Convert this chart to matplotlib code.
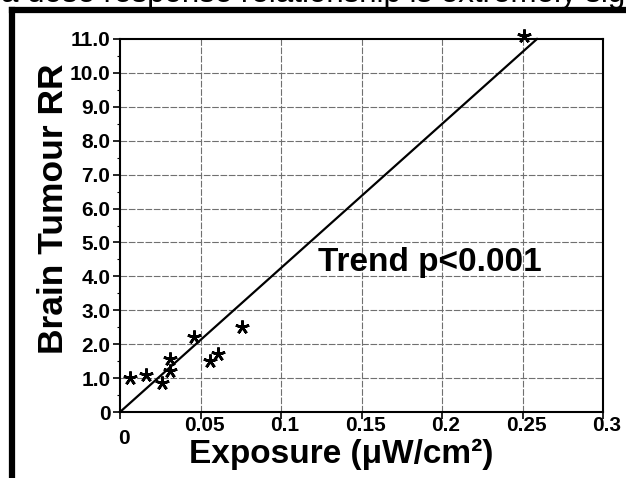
import matplotlib
matplotlib.use('Agg')
import matplotlib.pyplot as plt
import matplotlib.transforms as mtransforms
from matplotlib.lines import Line2D

plt.rcParams['font.family'] = ['Liberation Sans', 'DejaVu Sans']
plt.rcParams['font.weight'] = 'bold'

# data
exposure = [0.006, 0.016, 0.026, 0.031, 0.031, 0.046, 0.056, 0.061, 0.076, 0.251]
brain_rr = [1.0, 1.1, 0.85, 1.55, 1.2, 2.2, 1.5, 1.7, 2.5, 11.1]
trend_x = [0.0, 0.259]
trend_y = [0.0, 11.0]
xticks = [0, 0.05, 0.1, 0.15, 0.2, 0.25, 0.3]
xtick_labels = ['0', '0.05', '0.1', '0.15', '0.2', '0.25', '0.3']
yticks = [0, 1, 2, 3, 4, 5, 6, 7, 8, 9, 10, 11]
ytick_labels = ['0', '1.0', '2.0', '3.0', '4.0', '5.0', '6.0', '7.0', '8.0', '9.0', '10.0', '11.0']

fig = plt.figure(figsize=(6.26, 4.78), dpi=100)
W, H = 626.0, 478.0
ax = fig.add_axes([120 / W, 1 - 412 / H, (603 - 120) / W, (412 - 39) / H])

# grid
for v in xticks[1:-1]:
    ax.axvline(v, color='#707070', lw=0.8, ls=(0, (6, 1.5)), zorder=1)
for v in yticks[1:-1]:
    ax.axhline(v, color='#707070', lw=0.8, ls=(0, (6, 1.5)), zorder=1)

ax.plot(trend_x, trend_y, color='black', lw=1.6, zorder=3, clip_on=False)
ax.plot(exposure, brain_rr, ls='none', marker=(5, 2, 0), ms=10, mew=1.9,
        color='black', zorder=4, clip_on=False)

ax.set_xlim(0, 0.3)
ax.set_ylim(0, 11)
ax.set_xticks(xticks)
ax.set_xticklabels(xtick_labels)
ax.set_yticks(yticks)
ax.set_yticklabels(ytick_labels)
ax.set_yticks([v + 0.5 for v in yticks[:-1]], minor=True)
ax.tick_params(axis='both', which='major', length=5, width=1.2, color='black',
               labelsize=15, pad=2)
ax.tick_params(axis='x', which='major', pad=-2)
ax.tick_params(axis='y', which='minor', length=2.5, width=0.8)
for lbl in ax.get_xticklabels() + ax.get_yticklabels():
    lbl.set_fontweight('bold')

# x labels sit slightly right of their ticks, the "0" one lower
for i, lbl in enumerate(ax.get_xticklabels()):
    dy = -9 / 72 if i == 0 else 0
    lbl.set_transform(lbl.get_transform() +
                      mtransforms.ScaledTranslation(4 / 100, dy, fig.dpi_scale_trans))

for s in ax.spines.values():
    s.set_linewidth(1.5)
    s.set_color('black')

ax.set_xlabel('Exposure (\u03bcW/cm\u00b2)', fontsize=24, fontweight='bold')
ax.xaxis.label.set_va('baseline')
ax.xaxis.set_label_coords((341 - 120) / 483, (412 - 463) / 373)
ax.set_ylabel('Brain Tumour RR', fontsize=25.5, fontweight='bold')
ax.yaxis.set_label_coords((70 - 120) / 483, (412 - 209) / 373)

ax.text(0.123, 4.42, 'Trend p<0.001', fontsize=24, fontweight='bold', va='center')

# scanned page context: frame and clipped caption above it
fig.add_artist(Line2D([12 / W, 12 / W], [0, 1 - 10 / H], color='black', lw=4.5,
                      solid_capstyle='projecting', transform=fig.transFigure))
fig.add_artist(Line2D([12 / W, 1], [1 - 10 / H, 1 - 10 / H], color='black', lw=4.5,
                      solid_capstyle='projecting', transform=fig.transFigure))
fig.text(1 / W, 1 - 2 / H, 'a dose response relationship is extremely significant',
         fontsize=22.5, fontweight='normal', va='baseline', ha='left')

fig.savefig('out.png', dpi=100)
